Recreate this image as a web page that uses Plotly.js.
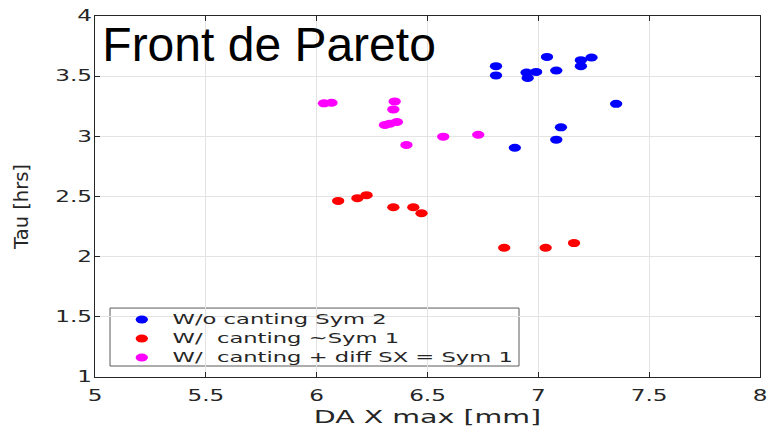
<!DOCTYPE html>
<html>
<head>
<meta charset="utf-8">
<script src="https://cdn.plot.ly/plotly-3.0.1.min.js"></script>
<style>
  html, body { margin: 0; padding: 0; background: #ffffff; }
  #chart { width: 768px; height: 427px; }
</style>
</head>
<body>
<div id="chart"></div>
<script>
// Pareto front: DA X max [mm] vs Tau [hrs] for three canting configurations
const seriesNames = [
  'W/o canting Sym 2',
  'W/  canting ~Sym 1',
  'W/  canting + diff SX = Sym 1'
];
const seriesColors = ['#0000ff', '#ff0000', '#ff00ff'];

const noCantX = [6.809, 6.809, 6.947, 6.952, 6.990, 7.039, 7.081, 7.192, 7.192, 7.240, 7.351, 7.102, 7.081, 6.894];
const noCantY = [3.583, 3.506, 3.530, 3.485, 3.535, 3.660, 3.547, 3.633, 3.583, 3.655, 3.270, 3.075, 2.972, 2.905];

const cantX = [6.097, 6.184, 6.225, 6.346, 6.436, 6.473, 6.846, 7.033, 7.161];
const cantY = [2.463, 2.486, 2.511, 2.411, 2.411, 2.361, 2.074, 2.074, 2.113];

const cantSxX = [6.033, 6.067, 6.352, 6.346, 6.308, 6.330, 6.362, 6.405, 6.571, 6.729];
const cantSxY = [3.274, 3.279, 3.290, 3.224, 3.094, 3.105, 3.119, 2.928, 2.997, 3.013];

const xTicks = [5, 5.5, 6, 6.5, 7, 7.5, 8];
const xTickText = ['5', '5.5', '6', '6.5', '7', '7.5', '8'];
const yTicks = [1, 1.5, 2, 2.5, 3, 3.5, 4];
const yTickText = ['1', '1.5', '2', '2.5', '3', '3.5', '4'];

// horizontal widening applied to labels, legend and dots
const WIDEN = 1.54;

// plot area in pixels, used to place the legend frame
const PLOT = { l: 95, r: 760, t: 15.7, b: 377 };
const px2x = p => (p - PLOT.l) / (PLOT.r - PLOT.l);
const px2y = p => (PLOT.b - p) / (PLOT.b - PLOT.t);

const xs = [noCantX, cantX, cantSxX];
const ys = [noCantY, cantY, cantSxY];

const traces = seriesNames.map((name, i) => ({
  type: 'scatter',
  mode: 'markers',
  name: '<span style="font-size:14.7px">' + name + '</span>',
  x: xs[i],
  y: ys[i],
  marker: { color: seriesColors[i], symbol: 'circle', size: 8, line: { width: 0 } },
  hoverinfo: 'x+y'
}));

const axisColor = '#262626';
const tickFont = { family: 'DejaVu Sans, sans-serif', size: 15, color: axisColor };

const layout = {
  width: 768,
  height: 427,
  paper_bgcolor: '#ffffff',
  plot_bgcolor: '#ffffff',
  margin: { l: 95, r: 8, t: 16, b: 50 },
  title: {
    text: 'Front de Pareto',
    font: { family: 'Liberation Sans, Arial, sans-serif', size: 48, color: '#000000' },
    xref: 'paper', x: 0.011, xanchor: 'left',
    yref: 'container', y: 0.897, yanchor: 'middle'
  },
  xaxis: {
    range: [5, 8],
    tickvals: xTicks,
    ticktext: xTickText,
    tickfont: tickFont,
    ticks: 'inside', ticklen: 5, tickcolor: axisColor,
    ticklabelstandoff: 5,
    showline: true, linecolor: axisColor, linewidth: 1, mirror: 'ticks',
    showgrid: true, gridcolor: '#e3e3e3', gridwidth: 1,
    zeroline: false,
    title: { text: 'DA X max [mm]', font: { family: 'DejaVu Sans, sans-serif', size: 18.5, color: axisColor }, standoff: 7 }
  },
  yaxis: {
    range: [1, 4],
    tickvals: yTicks,
    ticktext: yTickText,
    tickfont: tickFont,
    ticks: 'inside', ticklen: 5, tickcolor: axisColor,
    ticklabelstandoff: -1,
    showline: true, linecolor: axisColor, linewidth: 1, mirror: 'ticks',
    showgrid: true, gridcolor: '#e3e3e3', gridwidth: 1,
    zeroline: false,
    title: { text: 'Tau [hrs]', font: { family: 'DejaVu Sans, sans-serif', size: 19.5, color: axisColor }, standoff: 34 }
  },
  // legend frame
  shapes: [{
    type: 'rect', xref: 'paper', yref: 'paper',
    x0: px2x(110), x1: px2x(519), y0: px2y(366), y1: px2y(308),
    line: { color: '#5a5a5a', width: 1 }, fillcolor: '#ffffff', layer: 'between'
  }],
  legend: {
    x: px2x(111), y: px2y(372),
    xanchor: 'left', yanchor: 'bottom',
    bgcolor: 'rgba(0,0,0,0)',
    borderwidth: 0,
    font: { family: 'DejaVu Sans, sans-serif', size: 12, color: axisColor },
    tracegroupgap: 0
  },
  showlegend: true
};

function widenText(selector) {
  document.querySelectorAll(selector).forEach(el => {
    if (el.dataset.widened) return;
    const bb = el.getBBox();
    const anchor = el.getAttribute('text-anchor') || 'start';
    const ax = anchor === 'end' ? bb.x + bb.width : anchor === 'middle' ? bb.x + bb.width / 2 : bb.x;
    const t = el.getAttribute('transform') || '';
    el.setAttribute('transform', `${t} translate(${ax},0) scale(${WIDEN},1) translate(${-ax},0)`);
    el.dataset.widened = '1';
  });
}

function widenGroup(selector) {
  document.querySelectorAll(selector).forEach(el => {
    if (el.dataset.widened) return;
    const t = el.getAttribute('transform') || '';
    el.setAttribute('transform', `${t} scale(${WIDEN},1)`);
    el.dataset.widened = '1';
  });
}

Plotly.newPlot('chart', traces, layout, { displayModeBar: false, staticPlot: true }).then(() => {
  widenText('.xtick text');
  widenText('.ytick text');
  widenText('.xtitle');
  widenGroup('.scatterlayer path.point');
  widenGroup('g.legend');
  // y title sits a little below the plot centre
  const yt = document.querySelector('.ytitle');
  if (yt && !yt.dataset.moved) {
    yt.setAttribute('transform', 'translate(0,10) ' + (yt.getAttribute('transform') || ''));
    yt.dataset.moved = '1';
  }
});
</script>
</body>
</html>
